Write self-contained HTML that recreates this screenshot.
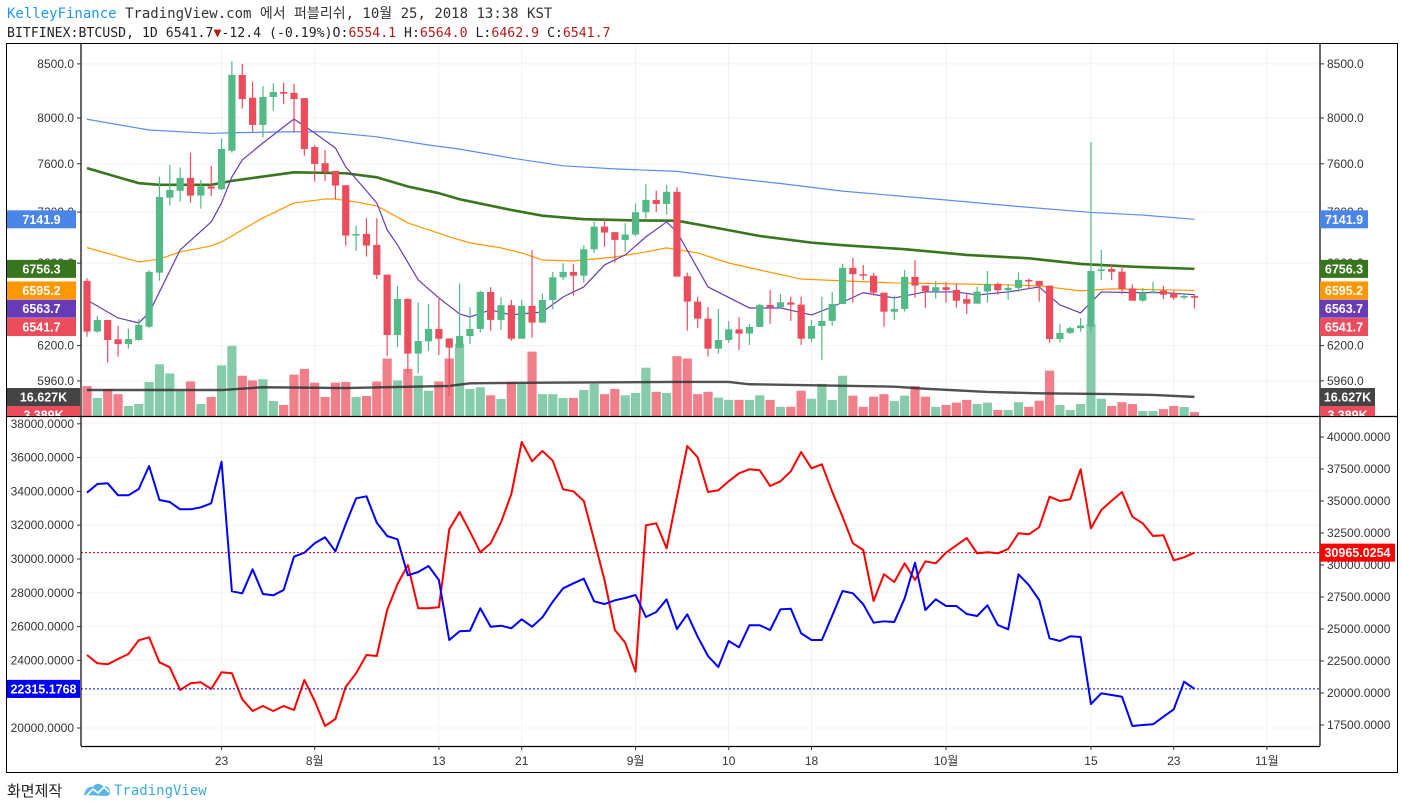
<!DOCTYPE html>
<html><head><meta charset="utf-8"><style>
body{margin:0;background:#fff;}
svg{display:block;font-family:"Liberation Sans","Noto Sans CJK KR",sans-serif;}
.mono{font-family:"DejaVu Sans Mono","Liberation Mono","Noto Sans CJK KR",monospace;}
</style></head><body>
<svg id="chart" width="1402" height="809" viewBox="0 0 1402 809" xmlns="http://www.w3.org/2000/svg">
<text class="mono" x="7" y="18" font-size="14" fill="#333"><tspan fill="#2196f3">KelleyFinance</tspan> TradingView.com 에서 퍼블리쉬, 10월 25, 2018 13:38 KST</text>
<text class="mono" x="7" y="37" font-size="13.2" fill="#222">BITFINEX:BTCUSD, 1D 6541.7<tspan fill="#b71c1c">▼</tspan>-12.4 (-0.19%)O:<tspan fill="#b71c1c">6554.1</tspan> H:<tspan fill="#b71c1c">6564.0</tspan> L:<tspan fill="#b71c1c">6462.9</tspan> C:<tspan fill="#b71c1c">6541.7</tspan></text>
<rect x="6.5" y="43.5" width="1391" height="729" fill="none" stroke="#000" stroke-width="1"/>
<g id="grid"></g>
<defs><clipPath id="upclip"><rect x="81" y="44" width="1239" height="372"/></clipPath>
<clipPath id="loclip"><rect x="81" y="417" width="1239" height="329"/></clipPath>
<clipPath id="lblclip"><rect x="0" y="44" width="1402" height="372"/></clipPath></defs>
<g id="upper" clip-path="url(#upclip)"></g>
<g id="lower" clip-path="url(#loclip)"></g>
<g id="axes"></g>
<g id="labels"></g>
<text x="7" y="796" font-size="15" fill="#222">화면제작</text>
<g>
<path d="M84 795 q2 -9 9 -8 q4 -6 10 -1 q7 0 7 6 q0 4 -4 4 z" fill="#5ab6e6"/>
<path d="M87 795 l6 -6 l5 4 l6 -6 l5 5" fill="none" stroke="#fff" stroke-width="1.6"/>
<text class="mono" x="114" y="795" font-size="14" fill="#3ba9e0">TradingView</text></g>
</svg>
<script>
// ---------- data ----------
const startDay = "2018-07-10";
const opens = [6666,6298,6381,6244,6211,6239,6333,6728,7317,7374,7481,7334,7409,7387,7712,8395,8184,7938,8191,8237,8228,8180,7744,7605,7540,7420,7013,7026,6940,6713,6274,6532,6145,6230,6317,6250,6186,6267,6317,6584,6381,6487,6248,6482,6362,6525,6693,6733,6705,6906,7084,7040,6979,7021,7199,7298,7266,7365,6701,6513,6390,6179,6239,6314,6284,6331,6489,6472,6508,6491,6248,6338,6374,6496,6764,6716,6705,6579,6440,6460,6696,6631,6589,6619,6599,6532,6498,6587,6644,6597,6614,6673,6666,6631,6246,6289,6322,6334,6740,6755,6735,6610,6520,6582,6594,6575,6542,6554.1];
const highs = [6686,6410,6381,6338,6319,6386,6748,7492,7591,7568,7696,7464,7582,7820,8524,8500,8330,8292,8317,8323,8311,8180,7761,7718,7540,7420,7092,7150,7150,6713,6629,6540,6506,6496,6545,6250,6649,6472,6594,6619,6545,6525,6525,6901,6574,6733,6799,6794,6938,7124,7142,7040,7111,7271,7428,7374,7423,7404,6728,6549,6474,6460,6374,6400,6353,6496,6599,6569,6549,6549,6381,6549,6584,6794,6840,6786,6725,6579,6557,6748,6824,6631,6666,6656,6644,6567,6624,6740,6653,6644,6730,6683,6666,6631,6351,6333,6395,7788,6901,6794,6778,6641,6614,6658,6629,6594,6575,6564.0];
const lows = [6262,6291,6083,6124,6179,6234,6322,6668,7252,7284,7276,7228,7330,7381,7696,8084,7879,7826,8066,8127,7870,7670,7450,7456,7304,6935,6894,6850,6680,6128,6189,6011,6011,6163,6135,5860,6182,6211,6291,6305,6310,6234,6248,6255,6358,6458,6673,6557,6653,6876,6927,6804,6888,7010,7137,7201,7180,6698,6305,6324,6124,6145,6220,6170,6205,6331,6353,6472,6374,6205,6223,6101,6338,6496,6506,6673,6557,6333,6381,6440,6542,6467,6535,6506,6469,6424,6498,6506,6564,6527,6584,6609,6513,6220,6220,6281,6298,6298,6673,6673,6569,6520,6513,6574,6532,6525,6530,6462.9];
const closes = [6298,6381,6239,6211,6246,6345,6733,7323,7381,7481,7334,7409,7392,7727,8395,8172,7938,8191,8237,8221,8172,7727,7599,7532,7417,7013,7026,6935,6711,6274,6532,6145,6232,6317,6248,6186,6267,6317,6584,6381,6487,6248,6482,6362,6525,6693,6733,6705,6906,7084,7037,6979,7021,7199,7298,7266,7365,6698,6513,6390,6179,6239,6314,6284,6331,6489,6472,6508,6491,6248,6338,6374,6496,6764,6716,6705,6579,6440,6460,6696,6631,6589,6619,6599,6520,6498,6587,6644,6597,6614,6673,6661,6631,6246,6289,6322,6341,6740,6753,6735,6607,6520,6580,6589,6564,6542,6554,6541.7];
const volumesK = [26,15.7,23.5,19,8.7,10.4,29.6,45,37,22,30,10.4,16.5,44,61,35,31,32,13,9.6,36,41,29,16.5,29,29.6,16.5,17.4,30,50,31,41,35,22,30,50,63,23.5,25,18,14.8,29.6,28,56,19,19,15.7,15.7,22.6,28,19,23.5,18,20,42,21,20,52,50,19,21,16,14,14,14,18,14,8,8,22,15,28,14,35,17.7,8,16.8,19,13,17.7,26,16.8,8,9.6,11.6,14,10.4,11.6,5.2,5.2,12,8,13.3,39.4,9.6,5.2,10.4,80,15,8.7,12,10.4,4.3,4.3,6,8.7,7.8,3.389];
const volMaDays = [0,13,17,25,35,37,44,57,62,64,78,81,87,92,99,103,107];
const volMaVals = [22.6,22.6,25,24.3,26.1,28.4,29,29.6,29.6,27.6,25.5,23.7,20.9,19.7,19.1,18.3,16.627];
// moving averages (keyframe day index + value)
const maBlueDays = [0,6,12,14,20,23,28,33,36,41,46,51,57,62,67,73,83,90,97,102,107];
const maBlueVals = [7989,7893,7863,7869,7878,7878,7833,7762,7726,7649,7583,7557,7536,7481,7434,7371,7298,7245,7197,7176,7141.9];
const maGreenDays = [0,5,7,12,14,17,20,25,28,31,34,36,41,44,48,53,57,61,65,70,73,79,85,91,96,101,107];
const maGreenVals = [7563,7437,7423,7423,7456,7492,7528,7520,7486,7409,7354,7304,7217,7171,7143,7133,7131,7071,7010,6958,6938,6907,6863,6837,6794,6773,6756.3];
const maOrangeDays = [0,5,7,9,12,13,15,17,20,23,24,26,28,31,35,37,40,42,44,47,51,54,56,59,62,65,69,73,78,84,89,92,96,99,107];
const maOrangeVals = [6919,6809,6831,6886,6932,6963,7058,7153,7274,7306,7306,7282,7250,7113,7003,6956,6917,6878,6824,6816,6847,6886,6917,6878,6801,6748,6680,6666,6651,6644,6636,6629,6592,6607,6595.2];
const maPurpleDays = [0,3,5,6,9,12,13,14,15,17,19,20,22,24,25,28,29,30,32,34,36,37,39,41,44,46,48,50,52,54,56,57,60,64,67,70,72,75,78,81,84,86,89,92,94,96,98,101,104,107];
const maPurpleVals = [6525,6395,6360,6431,6901,7121,7274,7489,7633,7779,7921,7991,7867,7736,7574,7274,7058,6940,6673,6540,6424,6402,6453,6417,6438,6547,6621,6786,6863,7003,7121,7042,6621,6467,6467,6417,6474,6579,6540,6584,6584,6562,6584,6621,6489,6431,6584,6579,6579,6563.7];
// lower pane series
const blueSeries = [33923,34437,34479,33769,33769,34142,35503,33491,33372,32941,32941,33059,33295,35757,28089,27970,29390,27929,27852,28165,30136,30373,30929,31284,30455,32071,33591,33710,32148,31361,31165,29035,29231,29586,28757,25207,25722,25757,27083,25994,26053,25899,26432,25994,26550,27473,28266,28562,28834,27497,27337,27556,27692,27870,26568,26864,27615,25858,26728,25402,24260,23609,25148,24775,26077,26077,25799,27023,27059,25604,25207,25207,26645,28106,27970,27319,26231,26313,26272,27674,29781,26982,27615,27219,27219,26745,26627,27260,26095,25840,29094,28461,27574,25308,25148,25426,25384,21420,22053,21953,21852,20118,20178,20219,20669,21106,22740,22315.1768];
const redSeries = [22969,22320,22242,22656,23047,24117,24352,22398,22008,20234,20758,20836,20313,21617,21539,19508,18594,18984,18594,18984,18672,21016,19375,17422,17969,20492,21539,22969,22891,26484,28516,30000,26617,26617,26695,32789,34141,32602,30992,31695,33336,35547,39609,38102,38906,38148,35914,35758,35000,31953,28828,24922,23930,21664,33102,33258,31305,35336,39297,38414,35703,35836,36539,37164,37477,37398,36172,36539,37320,38828,37555,37867,35727,33773,31695,31172,27188,29273,28672,30133,28828,30289,30133,30961,31539,32109,30914,30992,30914,31250,32477,32398,32945,35336,35000,35133,37477,32867,34297,35023,35703,33773,33258,32266,32320,30367,30602,30965.0254];
// axis ticks
const priceTicks = [8500,8000,7600,7200,6800,6200,5960];
const leftTicks = [38000,36000,34000,32000,30000,28000,26000,24000,22000,20000];
const rightTicks = [40000,37500,35000,32500,30000,27500,25000,22500,20000,17500];
const dateLabels = ["23","8월","13","21","9월","10","18","10월","15","23","11월"];
const dateDays = [13,22,34,42,53,62,70,83,97,105,114];

// ---------- scales ----------
const NS="http://www.w3.org/2000/svg";
const xAt = i => 87 + 10.35*i;
const yP = p => 118 - 893*Math.log(p/8000);
const yVol = v => 416 - v*1.15;
const yL = v => 728 - (v-20000)*33.8/2000;
const yR = v => 725 - (v-17500)*32/2500;
function mk(tag, attrs, parent){const e=document.createElementNS(NS,tag);for(const k in attrs)e.setAttribute(k,attrs[k]);parent.appendChild(e);return e;}
const G=id=>document.getElementById(id);
const grid=G('grid'),up=G('upper'),lo=G('lower'),ax=G('axes'),lb=G('labels');
const GREEN='#53b987',RED='#eb4d5c';

// grid
dateDays.forEach(d=>{[[44,416],[417,746]].forEach(r=>{const l=mk('line',{x1:xAt(d),x2:xAt(d),y1:r[0],y2:r[1],stroke:'#f2f2f2'},grid);

});});
priceTicks.forEach(p=>{const l=mk('line',{x1:81,x2:1320,y1:yP(p),y2:yP(p),stroke:'#f2f2f2'},grid);

});
leftTicks.forEach(v=>{const l=mk('line',{x1:81,x2:1320,y1:yL(v),y2:yL(v),stroke:'#f4f4f4'},grid);

});

// volume bars
volumesK.forEach((v,i)=>{const b=mk('rect',{x:xAt(i)-4.6,y:yVol(v),width:9.2,height:416-yVol(v),fill:closes[i]>=opens[i]?'#86ccab':'#f07f8a'},up);

});
// volume MA
const vpts=volMaDays.map((d,k)=>xAt(d)+','+yVol(volMaVals[k]));
const vma=mk('polyline',{points:vpts.join(' '),fill:'none',stroke:'#333','stroke-width':2.4,'stroke-opacity':0.85},up);



function maLine(days,vals,color,w,name){const pts=days.map((d,k)=>xAt(d)+','+yP(vals[k])).join(' ');
const l=mk('polyline',{points:pts,fill:'none',stroke:color,'stroke-width':w,'stroke-linejoin':'round'},up);

}
maLine(maBlueDays,maBlueVals,'#5b8def',1.2,'ma-blue-line');
maLine(maGreenDays,maGreenVals,'#38761d',2.6,'ma-green-line');
maLine(maOrangeDays,maOrangeVals,'#ff9800',1.2,'ma-orange-line');
maLine(maPurpleDays,maPurpleVals,'#673ab7',1.2,'ma-purple-line');

// candles
opens.forEach((o,i)=>{const c=closes[i],col=c>=o?GREEN:RED,x=xAt(i);
const g=mk('g',{},up);


mk('line',{x1:x,x2:x,y1:yP(highs[i]),y2:yP(lows[i]),stroke:col,'stroke-width':1.2},g);
const t=Math.min(yP(o),yP(c)),h=Math.max(1.5,Math.abs(yP(o)-yP(c)));
mk('rect',{x:x-3.6,y:t,width:7.2,height:h,fill:col},g);});

// lower series
function series(arr,yf,color,name){const pts=arr.map((v,i)=>xAt(i)+','+yf(v)).join(' ');
const l=mk('polyline',{points:pts,fill:'none',stroke:color,'stroke-width':2,'stroke-linejoin':'round'},lo);

}
series(redSeries,yR,'#ff0000','red-series-line');
series(blueSeries,yL,'#0000ff','blue-series-line');
const lastB=blueSeries[blueSeries.length-1],lastR=redSeries[redSeries.length-1];
const d1=mk('line',{x1:81,x2:1320,y1:yL(lastB),y2:yL(lastB),stroke:'#0000cc','stroke-dasharray':'2,2'},lo);


const d2=mk('line',{x1:81,x2:1320,y1:yR(lastR),y2:yR(lastR),stroke:'#cc0000','stroke-dasharray':'2,2'},lo);



// axes borders
[[81,44,81,746],[1320,44,1320,746],[7,416.5,1397,416.5],[81,746.5,1320,746.5]].forEach(a=>{const l=mk('line',{x1:a[0],y1:a[1],x2:a[2],y2:a[3],stroke:'#000','stroke-width':1.2},ax);

});
function tickLabel(x,y,txt,anchor,name){const t=mk('text',{x:x,y:y+4,'font-size':12,fill:'#333','text-anchor':anchor},ax);t.textContent=txt;

}
priceTicks.forEach(p=>{const y=yP(p);mk('line',{x1:77,x2:81,y1:y,y2:y,stroke:'#333'},ax);mk('line',{x1:1320,x2:1324,y1:y,y2:y,stroke:'#333'},ax);
tickLabel(74,y,p.toFixed(1),'end','price-tick-left');tickLabel(1327,y,p.toFixed(1),'start','price-tick-right');});
leftTicks.forEach(v=>{const y=yL(v);mk('line',{x1:77,x2:81,y1:y,y2:y,stroke:'#333'},ax);tickLabel(74,y,v.toFixed(4),'end','left-tick');});
rightTicks.forEach(v=>{const y=yR(v);mk('line',{x1:1320,x2:1324,y1:y,y2:y,stroke:'#333'},ax);tickLabel(1327,y,v.toFixed(4),'start','right-tick');});
dateLabels.forEach((s,k)=>{const x=xAt(dateDays[k]);mk('line',{x1:x,x2:x,y1:746,y2:750,stroke:'#333'},ax);
const t=mk('text',{x:x,y:765,'font-size':12,fill:'#333','text-anchor':'middle'},ax);t.textContent=s;

});

// value labels (stacked)
const tags=[[maBlueVals[maBlueVals.length-1],'#4a86e8'],[maGreenVals[maGreenVals.length-1],'#38761d'],[maOrangeVals[maOrangeVals.length-1],'#ff9800'],[maPurpleVals[maPurpleVals.length-1],'#673ab7'],[closes[closes.length-1],RED]];
let prev=-99;const up2=mk('g',{'clip-path':'url(#lblclip)'},lb);
function box(xl,y,w,color,txt,name,par){const g=mk('g',{},par);


mk('rect',{x:xl,y:y-9,width:w,height:18,fill:color},g);
const t=mk('text',{x:xl+w/2,y:y+4.5,'font-size':12.5,'font-weight':'bold',fill:'#fff','text-anchor':'middle'},g);t.textContent=txt;}
tags.forEach(t=>{let y=yP(t[0]);if(y<prev+18.3)y=prev+18.3;prev=y;const s=t[0].toFixed(1);
box(7,y,69,t[1],s,'left-price-tag',up2);box(1320,y,48,t[1],s,'right-price-tag',up2);});
const vmaLast=volMaVals[volMaVals.length-1];
box(7,397,73,'#444',vmaLast.toFixed(3)+'K','left-volume-ma-tag',up2);box(1320,397,55,'#444',vmaLast.toFixed(3)+'K','right-volume-ma-tag',up2);
box(7,415,73,RED,volumesK[volumesK.length-1].toFixed(3)+'K','left-volume-tag',up2);box(1320,415,55,RED,volumesK[volumesK.length-1].toFixed(3)+'K','right-volume-tag',up2);
box(7,yL(lastB),73,'#0000ff',lastB.toFixed(4),'left-blue-tag',lb);
box(1320,yR(lastR),75,'#ff0000',lastR.toFixed(4),'right-red-tag',lb);
</script>
</body></html>
